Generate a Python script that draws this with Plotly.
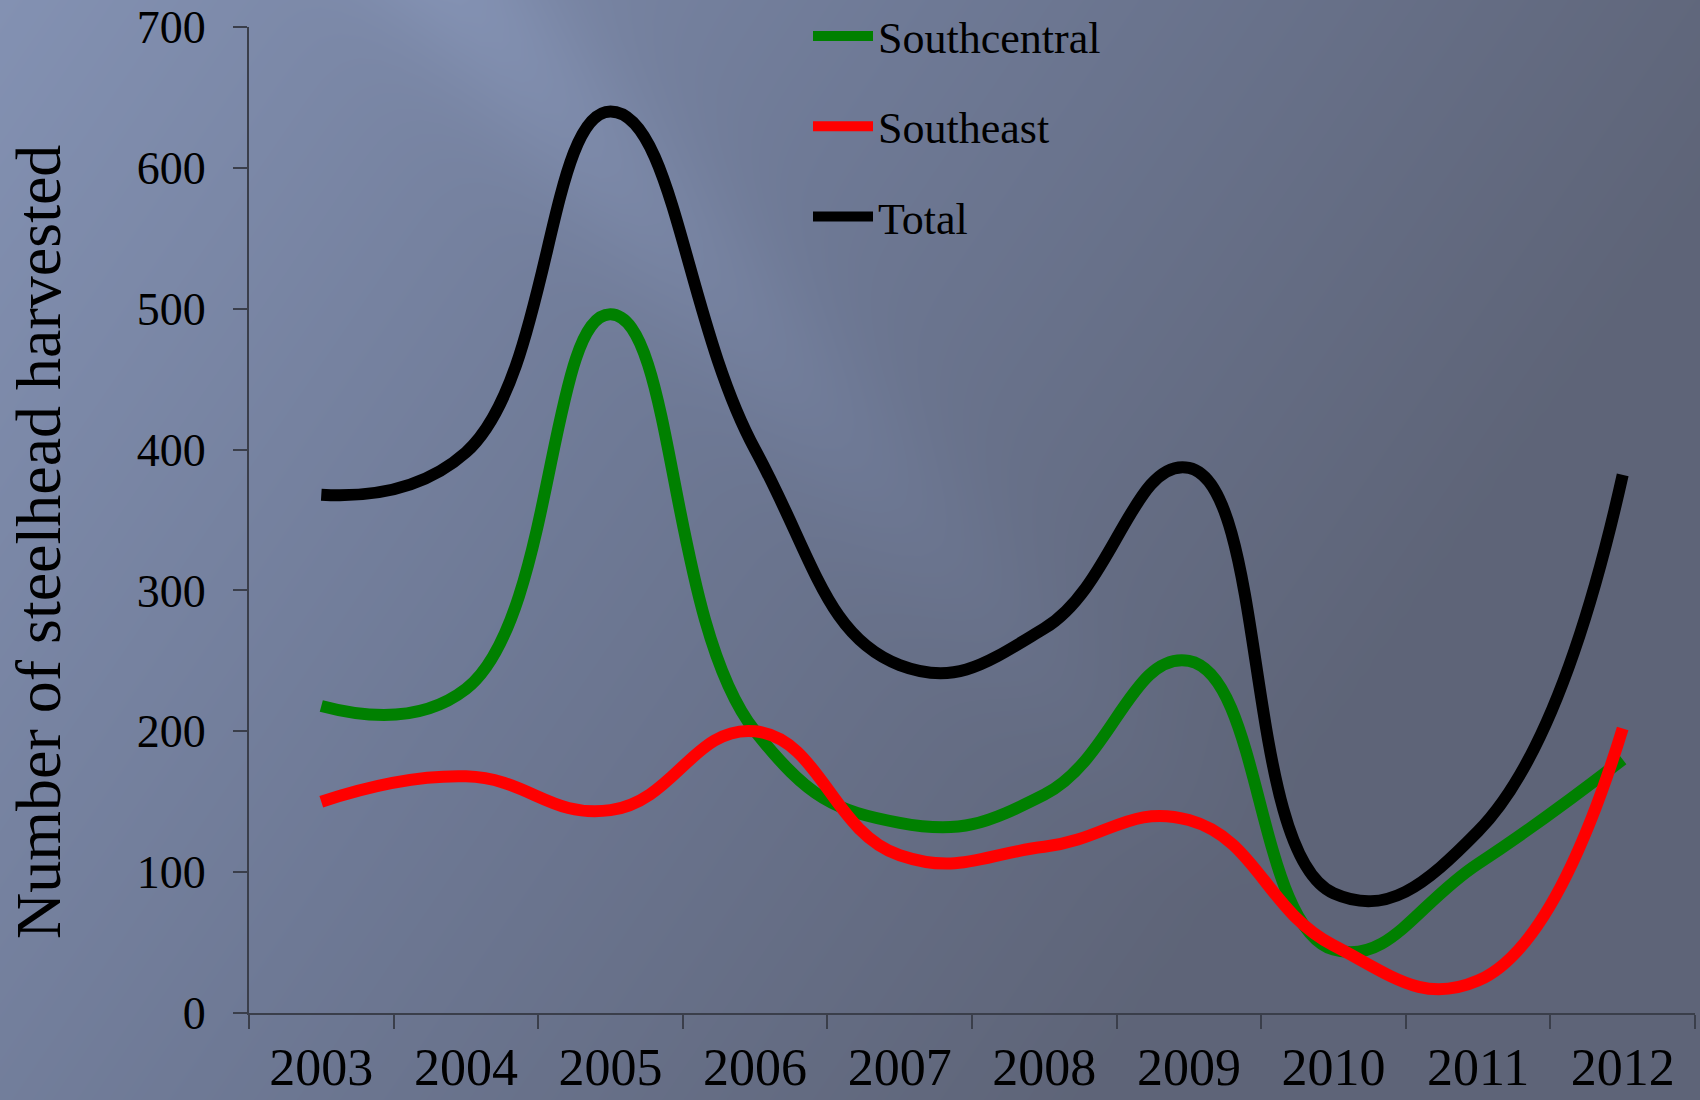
import numpy as np
import plotly.graph_objects as go

years = ["2003", "2004", "2005", "2006", "2007", "2008", "2009", "2010", "2011", "2012"]
southcentral = [218, 230, 496, 200, 135, 155, 250, 45, 106, 180]
southeast = [150, 168, 144, 200, 112, 118, 137, 48, 23, 202]
total = [368, 398, 640, 400, 247, 273, 387, 85, 129, 382]

W, H = 1700, 1100
FONT = "Liberation Serif, Times New Roman, serif"

# background gradient (decorative)
gx = np.linspace(0, W, 86)
gy = np.linspace(0, H, 56)
X, Y = np.meshgrid(gx, gy)
xn, yn = X / W, Y / H
base = np.clip(1 - 0.9 * xn - 0.4 * yn, 0.03, 1)
dvec = np.array([510.0, 596.0]); dvec /= np.linalg.norm(dvec)
d = ((X - 466) * dvec[1] - Y * dvec[0])
band = 0.24 * np.exp(-(d / 70.0) ** 2) * np.clip(1 - Y / 900, 0, 1)
Z = np.clip(base + band, 0, 1)

fig = go.Figure()
fig.add_trace(go.Heatmap(
    x=gx, y=gy, z=Z, xaxis="x", yaxis="y", zsmooth="best", showscale=False,
    colorscale=[[0, "#5d6376"], [0.5, "#6e7995"], [1, "#8391b2"]],
    zmin=0, zmax=1, hoverinfo="skip", showlegend=False))

series = [("Southcentral", southcentral, "#008000"),
          ("Southeast", southeast, "#ff0000"),
          ("Total", total, "#000000")]
for name, vals, col in series:
    fig.add_trace(go.Scatter(
        x=years, y=vals, name=name, mode="lines", xaxis="x2", yaxis="y2",
        line=dict(color=col, width=12, shape="spline", smoothing=1.3),
        legendgroup=name))

axcol = "#3a3e4a"
fig.update_layout(
    width=W, height=H, margin=dict(l=0, r=0, t=0, b=0, pad=0, autoexpand=False),
    paper_bgcolor="#6e7995", plot_bgcolor="rgba(0,0,0,0)",
    font=dict(family=FONT, color="black"),
    xaxis=dict(domain=[0, 1], range=[0, W], visible=False, fixedrange=True,
               automargin=False),
    yaxis=dict(domain=[0, 1], range=[H, 0], visible=False, fixedrange=True,
               automargin=False),
    xaxis2=dict(domain=[249 / W, 1695 / W], anchor="y2", type="category",
                range=[-0.5, 9.5], showline=True, linecolor=axcol, linewidth=2,
                ticks="outside", tickson="boundaries", ticklen=14, tickwidth=2,
                tickcolor=axcol, showgrid=False, zeroline=False, automargin=False,
                ticklabelstandoff=8,
                tickfont=dict(family=FONT, size=52, color="black")),
    yaxis2=dict(domain=[1 - 1013 / H, 1 - 27 / H], anchor="x2", range=[0, 700],
                dtick=100, showline=True, linecolor=axcol, linewidth=2,
                ticks="outside", ticklen=14, tickwidth=2, tickcolor=axcol,
                showgrid=False, zeroline=False, ticklabelstandoff=18, automargin=False,
                tickfont=dict(family=FONT, size=46, color="black")),
    legend=dict(x=808 / W, y=1 - 1 / H, xanchor="left", yanchor="top",
                bgcolor="rgba(0,0,0,0)", font=dict(family=FONT, size=44, color="black"),
                tracegroupgap=30, itemwidth=60),
    annotations=[dict(text="Number of steelhead harvested", x=38 / W, y=1 - 542 / H,
                      xref="paper", yref="paper", textangle=-90, showarrow=False,
                      font=dict(family=FONT, size=64, color="black"),
                      xanchor="center", yanchor="middle")],
)

fig.write_html("out.html", config={"displayModeBar": False},
               post_script="document.body.style.margin='0';document.body.style.overflow='hidden';")
